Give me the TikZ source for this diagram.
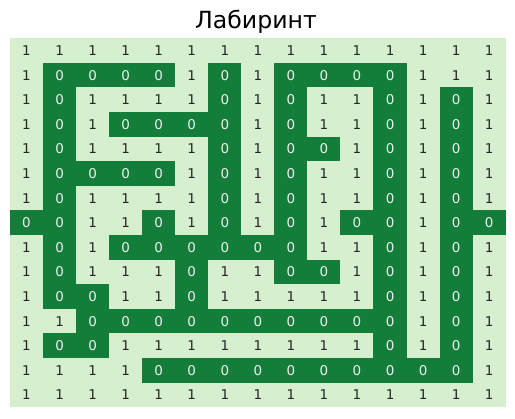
\documentclass[tikz,border=0pt]{standalone}
\usepackage{fontspec}
\setmainfont{DejaVu Sans}
\usepackage{tikz}
\usetikzlibrary{positioning}
\definecolor{mzlight}{HTML}{D5EFCF}
\definecolor{mzdark}{HTML}{137D3A}

\begin{document}
\begin{tikzpicture}[x=0.72pt, y=-0.72pt,
  c1/.style={fill=mzlight, text=black!85, minimum width=23.9pt, minimum height=17.8pt, inner sep=0pt, font=\fontsize{9.7}{10}\selectfont},
  c0/.style={c1, fill=mzdark, text=white!94!black},
  ttl/.style={font=\fontsize{17}{18}\selectfont, inner sep=0pt}]
  \useasboundingbox (0,0) rectangle (515,418);
  \node[ttl] (title) at (256,21.5) {Лабиринт};
  \foreach \row [count=\r from 0] in {
    {1,1,1,1,1,1,1,1,1,1,1,1,1,1,1},
    {1,0,0,0,0,1,0,1,0,0,0,0,1,1,1},
    {1,0,1,1,1,1,0,1,0,1,1,0,1,0,1},
    {1,0,1,0,0,0,0,1,0,1,1,0,1,0,1},
    {1,0,1,1,1,1,0,1,0,0,1,0,1,0,1},
    {1,0,0,0,0,1,0,1,0,1,1,0,1,0,1},
    {1,0,1,1,1,1,0,1,0,1,1,0,1,0,1},
    {0,0,1,1,0,1,0,1,0,1,0,0,1,0,0},
    {1,0,1,0,0,0,0,0,0,1,1,0,1,0,1},
    {1,0,1,1,1,0,1,1,0,0,1,0,1,0,1},
    {1,0,0,1,1,0,1,1,1,1,1,0,1,0,1},
    {1,1,0,0,0,0,0,0,0,0,0,0,1,0,1},
    {1,0,0,1,1,1,1,1,1,1,1,0,1,0,1},
    {1,1,1,1,0,0,0,0,0,0,0,0,0,0,1},
    {1,1,1,1,1,1,1,1,1,1,1,1,1,1,1}}
    \foreach \v [count=\c from 0] in \row
      \node[c\v] (m-\r-\c) at ({10+33.05*(\c+0.5)},{38.3+24.6*(\r+0.5)}) {\v};
\end{tikzpicture}
\end{document}
